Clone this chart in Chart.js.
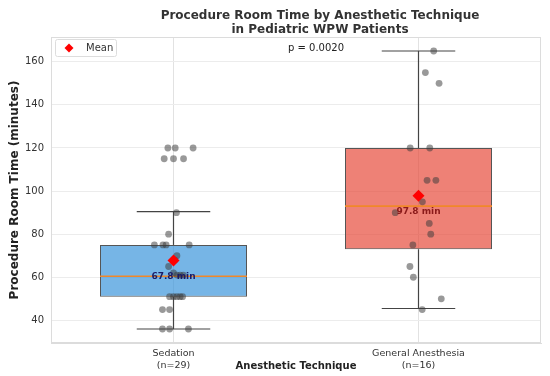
<!DOCTYPE html>
<html><head><meta charset="utf-8">
<script src="https://cdn.jsdelivr.net/npm/chart.js@4.4.0/dist/chart.umd.min.js"></script>
<style>html,body{margin:0;padding:0;background:#fff;}#wrap{width:550px;height:376px;position:relative;}</style>
</head><body><div id="wrap"><canvas id="c"></canvas></div>
<script>
const categories = [['Sedation', '(n=29)'], ['General Anesthesia', '(n=16)']];
const q1 = [51, 73];
const medians = [60.5, 93];
const q3 = [75, 120];
const whiskerLow = [36, 45.5];
const whiskerHigh = [90.5, 165];
const means = [67.8, 97.8];
const pValueText = 'p = 0.0020';
const yTicks = [40, 60, 80, 100, 120, 140, 160];

const sedationValues = [120,120,120, 115,115,115, 90, 80, 75,75,75,75, 70, 68, 65, 62, 61,61,61, 51,51,51,51,51, 45,45, 36,36,36];
const sedationJitter = [-0.023,0.007,0.08, -0.038,0,0.041, 0.012, -0.02, -0.078,-0.043,-0.03,0.064, 0.014, 0.005, -0.02, 0.0, 0.014,0.027,0.04, -0.016,0.0,0.014,0.027,0.037, -0.045,-0.016, -0.045,-0.016,0.061];
const gaValues = [165,155,150,120,120,105,105,95,90,85,80,75,65,60,50,45];
const gaJitter = [0.062,0.028,0.084,-0.034,0.046,0.035,0.071,0.016,-0.095,0.044,0.05,-0.023,-0.035,-0.021,0.093,0.015];

const boxColors = ['rgba(60,150,220,0.7)', 'rgba(231,76,60,0.7)'];
const labelColors = ['#1b1b66', '#8b1a1a'];
const FONT = "'DejaVu Sans', sans-serif";
const boxHalf = 0.3, capHalf = 0.15;

const datasets = [];
datasets.push({
  type: 'bar', label: 'box',
  data: q1.map((v, i) => ({x: i, y: [q1[i], q3[i]]})),
  backgroundColor: boxColors, borderColor: '#555', borderWidth: 1,
  borderSkipped: false, barPercentage: 0.6, categoryPercentage: 1, grouped: false, order: 10
});
function seg(pts, color, width, order) {
  datasets.push({type: 'line', label: 'seg', data: pts, borderColor: color, borderWidth: width,
    pointRadius: 0, fill: false, tension: 0, order: order});
}
for (let i = 0; i < categories.length; i++) {
  seg([{x: i, y: whiskerLow[i]}, {x: i, y: q1[i]}], '#444', 1.2, 11);
  seg([{x: i, y: q3[i]}, {x: i, y: whiskerHigh[i]}], '#444', 1.2, 11);
  seg([{x: i - capHalf, y: whiskerLow[i]}, {x: i + capHalf, y: whiskerLow[i]}], '#444', 1.2, 11);
  seg([{x: i - capHalf, y: whiskerHigh[i]}, {x: i + capHalf, y: whiskerHigh[i]}], '#444', 1.2, 11);
  seg([{x: i - boxHalf, y: medians[i]}, {x: i + boxHalf, y: medians[i]}], '#f0882a', 1.6, 5);
}
datasets.push({type: 'scatter', label: 'pts',
  data: sedationValues.map((v, k) => ({x: 0 + sedationJitter[k], y: v}))
    .concat(gaValues.map((v, k) => ({x: 1 + gaJitter[k], y: v}))),
  backgroundColor: 'rgba(60,60,60,0.52)', borderWidth: 0, pointRadius: 3.4, order: 3});
datasets.push({type: 'scatter', label: 'Mean',
  data: means.map((m, i) => ({x: i, y: m})),
  backgroundColor: '#ff0000', borderColor: '#ff0000', borderWidth: 0,
  pointStyle: 'rectRot', pointRadius: 6, order: 1});

const extras = {
  id: 'extras',
  beforeDatasetsDraw(chart) {
    const {ctx, chartArea: a} = chart;
    ctx.save();
    ctx.strokeStyle = '#dcdcdc'; ctx.lineWidth = 1;
    ctx.strokeRect(a.left + 0.5, a.top + 0.5, a.width - 1, a.height - 1);
    ctx.restore();
  },
  afterDatasetsDraw(chart) {
    const {ctx, chartArea: a, scales: {x, y}} = chart;
    ctx.save();
    ctx.font = 'bold 9px ' + FONT;
    ctx.textAlign = 'center'; ctx.textBaseline = 'middle';
    means.forEach((m, i) => {
      ctx.fillStyle = labelColors[i];
      ctx.fillText(m.toFixed(1) + ' min', x.getPixelForValue(i), y.getPixelForValue(m) + 16);
    });
    ctx.font = '10px ' + FONT; ctx.fillStyle = '#222';
    ctx.fillText(pValueText, (a.left + a.right) / 2 + 20, a.top + 11);
    const lx = a.left + 4, ly = a.top + 2;
    ctx.beginPath();
    ctx.roundRect(lx + 0.5, ly + 0.5, 61, 17, 2);
    ctx.fillStyle = 'rgba(255,255,255,0.85)'; ctx.fill();
    ctx.strokeStyle = '#dddddd'; ctx.lineWidth = 1; ctx.stroke();
    ctx.fillStyle = '#ff0000';
    ctx.beginPath();
    ctx.moveTo(lx + 9.5, ly + 9); ctx.lineTo(lx + 14, ly + 4.5); ctx.lineTo(lx + 18.5, ly + 9); ctx.lineTo(lx + 14, ly + 13.5); ctx.closePath(); ctx.fill();
    ctx.fillStyle = '#333'; ctx.textAlign = 'left';
    ctx.fillText('Mean', lx + 31, ly + 9.5);
    ctx.font = 'bold 12px ' + FONT; ctx.fillStyle = '#333'; ctx.textAlign = 'center';
    ctx.fillText('Procedure Room Time by Anesthetic Technique', 320, 16);
    ctx.fillText('in Pediatric WPW Patients', 320, 30);
    ctx.restore();
  }
};

new Chart(document.getElementById('c'), {
  type: 'bar',
  data: {datasets},
  options: {
    responsive: true, maintainAspectRatio: false, animation: false,
    layout: {padding: {top: 37, right: 9, left: 0, bottom: 0}},
    plugins: {legend: {display: false}, tooltip: {enabled: false}, title: {display: false}},
    scales: {
      x: {
        type: 'linear', min: -0.5, max: 1.5, offset: false,
        afterBuildTicks: s => { s.ticks = categories.map((c, i) => ({value: i})); },
        afterFit: s => { s.height = 33; },
        ticks: {callback: v => categories[v], color: '#333', padding: 5, font: {family: FONT, size: 9.5}, maxRotation: 0, autoSkip: false},
        grid: {color: '#e2e2e2', drawTicks: false, offset: false},
        border: {color: '#dcdcdc'},
        title: {display: true, text: 'Anesthetic Technique', color: '#222', font: {family: FONT, size: 10, weight: 'bold'}, padding: {top: -20, bottom: 4}}
      },
      y: {
        type: 'linear', min: 29.5, max: 171.5,
        afterBuildTicks: s => { s.ticks = yTicks.map(v => ({value: v})); },
        afterFit: s => { s.width = 51; },
        ticks: {color: '#333', padding: 7, font: {family: FONT, size: 10}},
        grid: {color: '#ececec', drawTicks: false},
        border: {color: '#dcdcdc'},
        title: {display: true, text: 'Procedure Room Time (minutes)', color: '#222', font: {family: FONT, size: 12, weight: 'bold'}, padding: {top: 8, bottom: 0}}
      }
    }
  },
  plugins: [extras]
});
</script></body></html>
